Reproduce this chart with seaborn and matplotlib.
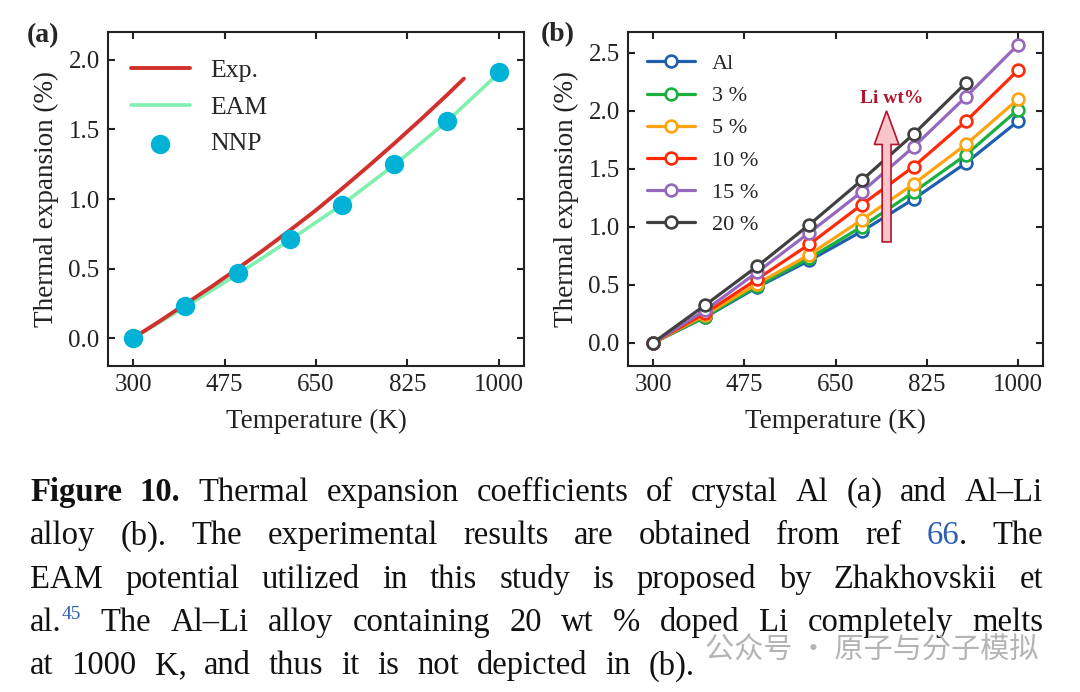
import numpy as np
import pandas as pd
import matplotlib
matplotlib.use("Agg")
import matplotlib.pyplot as plt
import seaborn as sns

# ---------------- data ----------------
temps = [300, 400, 500, 600, 700, 800, 900, 1000]
exp_temps = [300, 350, 400, 450, 500, 550, 600, 650, 700, 750, 800, 850, 900, 933]
exp_vals = [0.0, 0.12, 0.245, 0.37, 0.50, 0.635, 0.775, 0.92, 1.075, 1.235, 1.40, 1.57, 1.745, 1.865]
eam_vals = [0.0, 0.225, 0.46, 0.705, 0.96, 1.245, 1.555, 1.905]
nnp_vals = [0.0, 0.23, 0.47, 0.71, 0.96, 1.25, 1.56, 1.91]

alloy_labels = ["Al", "3 %", "5 %", "10 %", "15 %", "20 %"]
al_vals = [0.0, 0.22, 0.48, 0.71, 0.96, 1.24, 1.55, 1.91]
li3_vals = [0.0, 0.225, 0.49, 0.73, 1.00, 1.30, 1.62, 2.01]
li5_vals = [0.0, 0.24, 0.51, 0.76, 1.06, 1.37, 1.71, 2.10]
li10_vals = [0.0, 0.255, 0.55, 0.85, 1.19, 1.52, 1.91, 2.35]
li15_vals = [0.0, 0.28, 0.61, 0.95, 1.30, 1.69, 2.12, 2.57]
li20_vals = [0.0, 0.325, 0.66, 1.02, 1.40, 1.80, 2.24, np.nan]
alloy_colors = ["#1f5fb0", "#1cb040", "#ffa310", "#ff2a08", "#9668bd", "#404040"]

xticks = [300, 475, 650, 825, 1000]
yticks_a = [0.0, 0.5, 1.0, 1.5, 2.0]
yticks_b = [0.0, 0.5, 1.0, 1.5, 2.0, 2.5]

caption_lines = [
    [[("Figure", "b")], [("10.", "b")], [("Thermal", "n")], [("expansion", "n")],
     [("coefficients", "n")], [("of", "n")], [("crystal", "n")], [("Al", "n")],
     [("(a)", "n")], [("and", "n")], [("Al\u2013Li", "n")]],
    [[("alloy", "n")], [("(b).", "n")], [("The", "n")], [("experimental", "n")],
     [("results", "n")], [("are", "n")], [("obtained", "n")], [("from", "n")],
     [("ref", "n")], [("66", "link"), (".", "n")], [("The", "n")]],
    [[("EAM", "n")], [("potential", "n")], [("utilized", "n")], [("in", "n")],
     [("this", "n")], [("study", "n")], [("is", "n")], [("proposed", "n")],
     [("by", "n")], [("Zhakhovskii", "n")], [("et", "n")]],
    [[("al.", "n"), ("45", "sup")], [("The", "n")], [("Al\u2013Li", "n")], [("alloy", "n")],
     [("containing", "n")], [("20", "n")], [("wt", "n")], [("%", "n")], [("doped", "n")],
     [("Li", "n")], [("completely", "n")], [("melts", "n")]],
    [[("at", "n")], [("1000", "n")], [("K,", "n")], [("and", "n")], [("thus", "n")],
     [("it", "n")], [("is", "n")], [("not", "n")], [("depicted", "n")], [("in", "n")],
     [("(b).", "n")]],
]
watermark = "\u516c\u4f17\u53f7 \u00b7 \u539f\u5b50\u4e0e\u5206\u5b50\u6a21\u62df"

# ---------------- style ----------------
sns.set_style("ticks")
plt.rcParams["font.family"] = ["Liberation Serif", "DejaVu Serif"]

W, H = 1080, 692
fig = plt.figure(figsize=(W / 100, H / 100), dpi=100)
fig.patch.set_facecolor("white")
ax_a = fig.add_axes([108 / W, 1 - 366 / H, 416 / W, 334 / H])
ax_b = fig.add_axes([628 / W, 1 - 366 / H, 415 / W, 334 / H])


def style_axes(ax, yticks, ylim):
    ax.set_xlim(252, 1048)
    ax.set_ylim(*ylim)
    ax.set_xticks(xticks)
    ax.set_xticklabels([str(t) for t in xticks])
    ax.set_yticks(yticks)
    ax.set_yticklabels([f"{v:.1f}" for v in yticks])
    ax.tick_params(direction="in", length=5, width=1.5, top=True, right=True,
                   labelsize=18, pad=6, color="#222222", labelcolor="#222222")
    for s in ax.spines.values():
        s.set_linewidth(1.5)
        s.set_color("#222222")
    ax.set_xlabel("Temperature (K)", fontsize=19.5, labelpad=9, color="#222222")
    ax.set_ylabel("Thermal expansion (%)", fontsize=19.5, labelpad=7, color="#222222")
    ax.set_facecolor("white")
    ax.grid(False)


# ---------------- panel (a) ----------------
df_exp = pd.DataFrame({"T": exp_temps, "v": exp_vals})
df_eam = pd.DataFrame({"T": temps, "v": eam_vals})
df_nnp = pd.DataFrame({"T": temps, "v": nnp_vals})
sns.lineplot(data=df_exp, x="T", y="v", color="#d0312d", linewidth=2.8,
             label="Exp.", ax=ax_a, zorder=3)
sns.lineplot(data=df_eam, x="T", y="v", color="#80f0ae", linewidth=2.6,
             label="EAM", ax=ax_a, zorder=2)
sns.scatterplot(data=df_nnp, x="T", y="v", color="#00b3d6", s=195, linewidth=0,
                label="NNP", ax=ax_a, zorder=4)
style_axes(ax_a, yticks_a, (-0.2, 2.2))
h, l = ax_a.get_legend_handles_labels()
ax_a.legend(h, l, loc="upper left", bbox_to_anchor=(0.055, 0.92), borderaxespad=0,
            borderpad=0, frameon=False, fontsize=18.5, handlelength=2.3,
            handletextpad=0.8, labelspacing=0.54, markerscale=1.0)

# ---------------- panel (b) ----------------
series = [al_vals, li3_vals, li5_vals, li10_vals, li15_vals, li20_vals]
for lab, vals, col in zip(alloy_labels, series, alloy_colors):
    d = pd.DataFrame({"T": temps, "v": vals}).dropna()
    sns.lineplot(data=d, x="T", y="v", color=col, linewidth=2.3, marker="o",
                 markersize=8.5, markerfacecolor="white", markeredgecolor=col,
                 markeredgewidth=1.9, label=lab, ax=ax_b)
style_axes(ax_b, yticks_b, (-0.2, 2.68))
h, l = ax_b.get_legend_handles_labels()
ax_b.legend(h, l, loc="upper left", bbox_to_anchor=(0.046, 0.935), borderaxespad=0,
            borderpad=0, frameon=False, fontsize=16, handlelength=2.15,
            handletextpad=0.75, labelspacing=0.52)

# arrow annotation "Li wt%"
arrow_x, arrow_y0, arrow_y1 = 748, 0.87, 2.0
ax_b.arrow(arrow_x, arrow_y0, 0, arrow_y1 - arrow_y0, width=17, head_width=47,
           head_length=0.29, length_includes_head=True, facecolor="#f8c6ca",
           edgecolor="#b3142c", linewidth=1.2, zorder=5)
ax_b.text(757, 2.11, "Li wt%", color="#b3142c", fontsize=14, fontweight="bold",
          ha="center", va="center", zorder=6)

# panel letters
fig.text(27 / W, 1 - 36 / H, "(a)", fontsize=20, fontweight="bold", va="center", ha="left")
fig.text(541 / W, 1 - 35 / H, "(b)", fontsize=20, fontweight="bold", va="center", ha="left")

# ---------------- caption ----------------
fig.canvas.draw()
renderer = fig.canvas.get_renderer()
CAP_FS = 23.5
SUP_FS = 14
x_left = 30
line_rights = [1043, 1043, 1043, 1043, 695]
baselines = [501, 544.3, 587.6, 631, 674.3]


def make_seg(text, kind):
    kw = dict(fontsize=CAP_FS, color="#111111", va="baseline", ha="left")
    if kind == "b":
        kw["fontweight"] = "bold"
    elif kind == "link":
        kw["color"] = "#2f5fb3"
    elif kind == "sup":
        kw["color"] = "#2f5fb3"
        kw["fontsize"] = SUP_FS
    t = fig.text(0, 0, text, **kw)
    w = t.get_window_extent(renderer).width
    return t, w


for line, base, x_right in zip(caption_lines, baselines, line_rights):
    words = []
    for word in line:
        segs = [(make_seg(txt, kind), kind) for txt, kind in word]
        wsum = sum(sw for (t, sw), k in segs)
        words.append((segs, wsum))
    total = sum(w for _, w in words)
    gap = (x_right - x_left - total) / (len(words) - 1)
    x = x_left
    for segs, wsum in words:
        xx = x
        for (t, sw), kind in segs:
            yy = base - 12 if kind == "sup" else base
            t.set_position((xx / W, 1 - yy / H))
            xx += sw
        x += wsum + gap

# watermark
fig.text(705 / W, 1 - 651 / H, watermark, fontsize=21, color="#b4b4b4",
         va="center", ha="left", family=["Noto Sans CJK SC", "DejaVu Sans"], zorder=10)

fig.savefig("out.png", dpi=100, facecolor="white")
